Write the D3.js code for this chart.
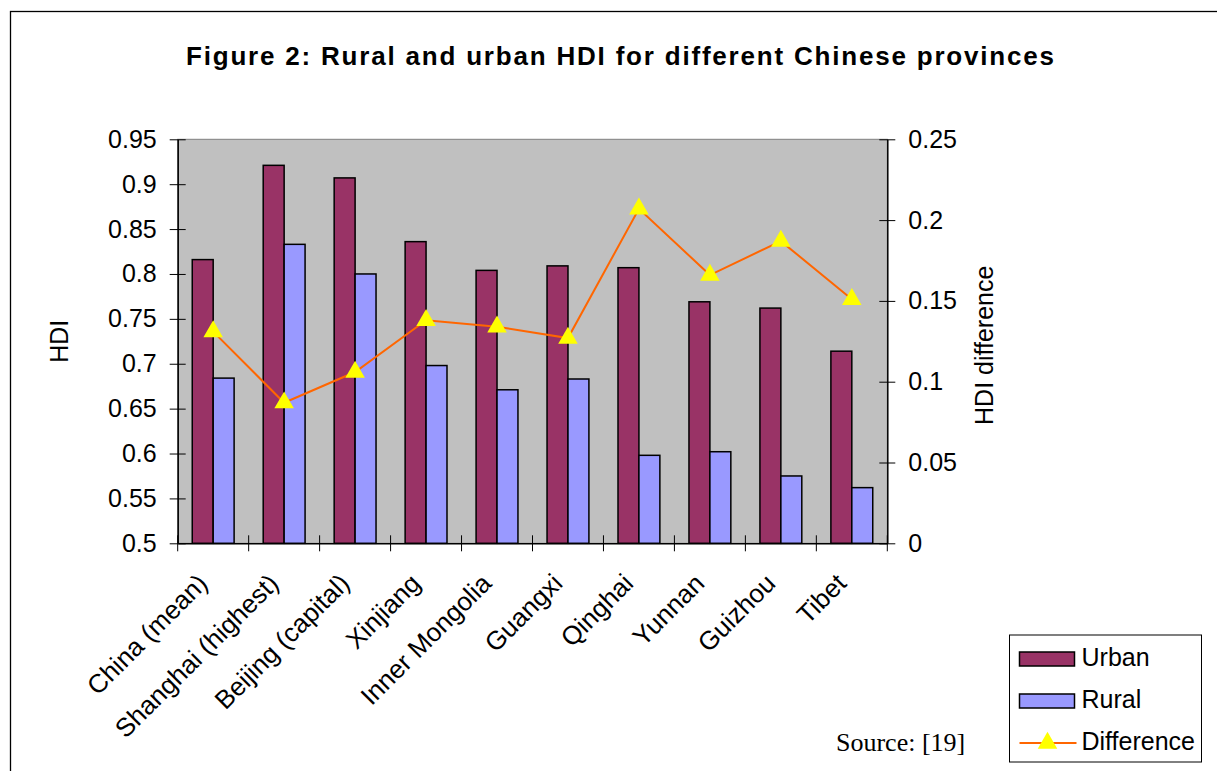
<!DOCTYPE html>
<meta charset="utf-8">
<script src="https://d3js.org/d3.v7.min.js"></script>
<style>
  body { margin: 0; background: #fff; }
  text { font-family: "Liberation Sans", Arial, sans-serif; }
</style>
<div id="chart"></div>
<script>
// data
const provinces = ["China (mean)", "Shanghai (highest)", "Beijing (capital)", "Xinjiang",
  "Inner Mongolia", "Guangxi", "Qinghai", "Yunnan", "Guizhou", "Tibet"];
const urban = [0.816, 0.921, 0.907, 0.836, 0.804, 0.809, 0.807, 0.769, 0.762, 0.714];
const rural = [0.684, 0.833, 0.800, 0.698, 0.671, 0.683, 0.598, 0.602, 0.575, 0.562];
const difference = [0.131, 0.087, 0.106, 0.138, 0.134, 0.127, 0.207, 0.166, 0.187, 0.151];
const series = ["Urban", "Rural"];
const leftTicks = [0.5, 0.55, 0.6, 0.65, 0.7, 0.75, 0.8, 0.85, 0.9, 0.95];
const rightTicks = [0, 0.05, 0.1, 0.15, 0.2, 0.25];

const colors = {Urban: "#993366", Rural: "#9999FF"};

const W = 1217, H = 771;
const plot = {left: 177.7, right: 887.3, top: 139.3, bottom: 543.3};
const fs = "25px";

const svg = d3.select("#chart").append("svg")
    .attr("width", W)
    .attr("height", H);

// outer frame (runs off the right and bottom of the picture)
svg.append("rect")
    .attr("x", 10.5).attr("y", 11.5)
    .attr("width", 1400).attr("height", 1000)
    .attr("fill", "none").attr("stroke", "#000").attr("stroke-width", 1.3);

svg.append("text")
    .attr("x", 620).attr("y", 65)
    .attr("text-anchor", "middle")
    .attr("textLength", 868).attr("lengthAdjust", "spacing")
    .style("font-size", "26px").style("font-weight", "bold")
    .text("Figure 2: Rural and urban HDI for different Chinese provinces");

// scales
const x = d3.scaleBand()
    .domain(provinces)
    .range([plot.left, plot.right])
    .paddingInner(0.41)
    .paddingOuter(0.205);
const x1 = d3.scaleBand()
    .domain(series)
    .range([0, x.bandwidth()]);
const y = d3.scaleLinear().domain([0.5, 0.95]).range([plot.bottom, plot.top]);
const y2 = d3.scaleLinear().domain([0, 0.25]).range([plot.bottom, plot.top]);

// plot area
svg.append("rect")
    .attr("x", plot.left).attr("y", plot.top)
    .attr("width", plot.right - plot.left).attr("height", plot.bottom - plot.top)
    .attr("fill", "#C0C0C0").attr("stroke", "#808080").attr("stroke-width", 1);

// bars
const rows = provinces.map((p, i) => ({p, Urban: urban[i], Rural: rural[i], diff: difference[i]}));
const groups = svg.append("g").selectAll("g")
    .data(rows)
    .join("g")
    .attr("transform", d => `translate(${x(d.p)},0)`);
groups.selectAll("rect")
    .data(d => series.map(s => ({s, v: d[s]})))
    .join("rect")
    .attr("x", d => x1(d.s))
    .attr("y", d => y(d.v))
    .attr("width", x1.bandwidth())
    .attr("height", d => y(0.5) - y(d.v))
    .attr("fill", d => colors[d.s])
    .attr("stroke", "#000")
    .attr("stroke-width", 1.5);

// axes
const yAxis = svg.append("g")
    .attr("transform", `translate(${plot.left},0)`)
    .call(d3.axisLeft(y).tickValues(leftTicks).tickSize(8).tickSizeOuter(0).tickPadding(13)
      .tickFormat(d => String(+d.toFixed(2))));
yAxis.selectAll(".tick line").attr("x1", 8);

const y2Axis = svg.append("g")
    .attr("transform", `translate(${plot.right},0)`)
    .call(d3.axisRight(y2).tickValues(rightTicks).tickSize(8).tickSizeOuter(0).tickPadding(13)
      .tickFormat(d => String(+d.toFixed(2))));
y2Axis.selectAll(".tick line").attr("x1", -8);

const xAxis = svg.append("g")
    .attr("transform", `translate(0,${plot.bottom})`)
    .call(d3.axisBottom(x).tickSize(0).tickSizeOuter(0).tickFormat(""));
// category boundary ticks
const step = x.step();
xAxis.selectAll(".sep")
    .data(d3.range(provinces.length + 1))
    .join("line")
    .attr("x1", i => plot.left + i * step)
    .attr("x2", i => plot.left + i * step)
    .attr("y1", -8).attr("y2", 8)
    .attr("stroke", "#000");

svg.selectAll(".domain").attr("stroke", "#000").attr("stroke-width", 1.5);
svg.selectAll(".tick line").attr("stroke", "#000");
svg.selectAll(".tick text").style("font-size", fs).attr("fill", "#000")
    .style("font-family", "'Liberation Sans', Arial, sans-serif");

// rotated category labels
svg.append("g").selectAll("text")
    .data(provinces)
    .join("text")
    .attr("transform", d => `translate(${x(d) + x.bandwidth() / 2 - 4},585) rotate(-45)`)
    .attr("text-anchor", "end")
    .style("font-size", "26px")
    .text(d => d);

// axis titles
svg.append("text")
    .attr("transform", `translate(68,${(plot.top + plot.bottom) / 2}) rotate(-90)`)
    .attr("text-anchor", "middle")
    .style("font-size", fs)
    .text("HDI");
svg.append("text")
    .attr("transform", `translate(993,${(plot.top + plot.bottom) / 2 + 4}) rotate(-90)`)
    .attr("text-anchor", "middle")
    .style("font-size", fs)
    .text("HDI difference");

// difference line
const cx = d => x(d.p) + x.bandwidth() / 2;
svg.append("path")
    .datum(rows)
    .attr("fill", "none")
    .attr("stroke", "#FF6600")
    .attr("stroke-width", 2)
    .attr("d", d3.line().x(cx).y(d => y2(d.diff)));
const tri = d3.symbol(d3.symbolTriangle, 165);
svg.append("g").selectAll("path")
    .data(rows)
    .join("path")
    .attr("transform", d => `translate(${cx(d)},${y2(d.diff)})`)
    .attr("d", tri)
    .attr("fill", "#FFFF00");

// legend
const lg = svg.append("g").attr("transform", "translate(1009.5,635)");
lg.append("rect")
    .attr("width", 192).attr("height", 127)
    .attr("fill", "#fff").attr("stroke", "#000").attr("stroke-width", 1);
series.forEach((s, i) => {
  lg.append("rect")
      .attr("x", 10).attr("y", 17 + i * 42)
      .attr("width", 55).attr("height", 14)
      .attr("fill", colors[s]).attr("stroke", "#000").attr("stroke-width", 1.5);
  lg.append("text")
      .attr("x", 72).attr("y", 31 + i * 42)
      .style("font-size", fs)
      .text(s);
});
lg.append("line")
    .attr("x1", 10).attr("x2", 67).attr("y1", 108).attr("y2", 108)
    .attr("stroke", "#FF6600").attr("stroke-width", 2);
lg.append("path")
    .attr("transform", "translate(38,108)")
    .attr("d", tri)
    .attr("fill", "#FFFF00");
lg.append("text")
    .attr("x", 72).attr("y", 115)
    .style("font-size", fs)
    .text("Difference");

svg.append("text")
    .attr("x", 836).attr("y", 751)
    .style("font-family", "'Liberation Serif', 'Times New Roman', serif")
    .style("font-size", "26px")
    .text("Source: [19]");
</script>
